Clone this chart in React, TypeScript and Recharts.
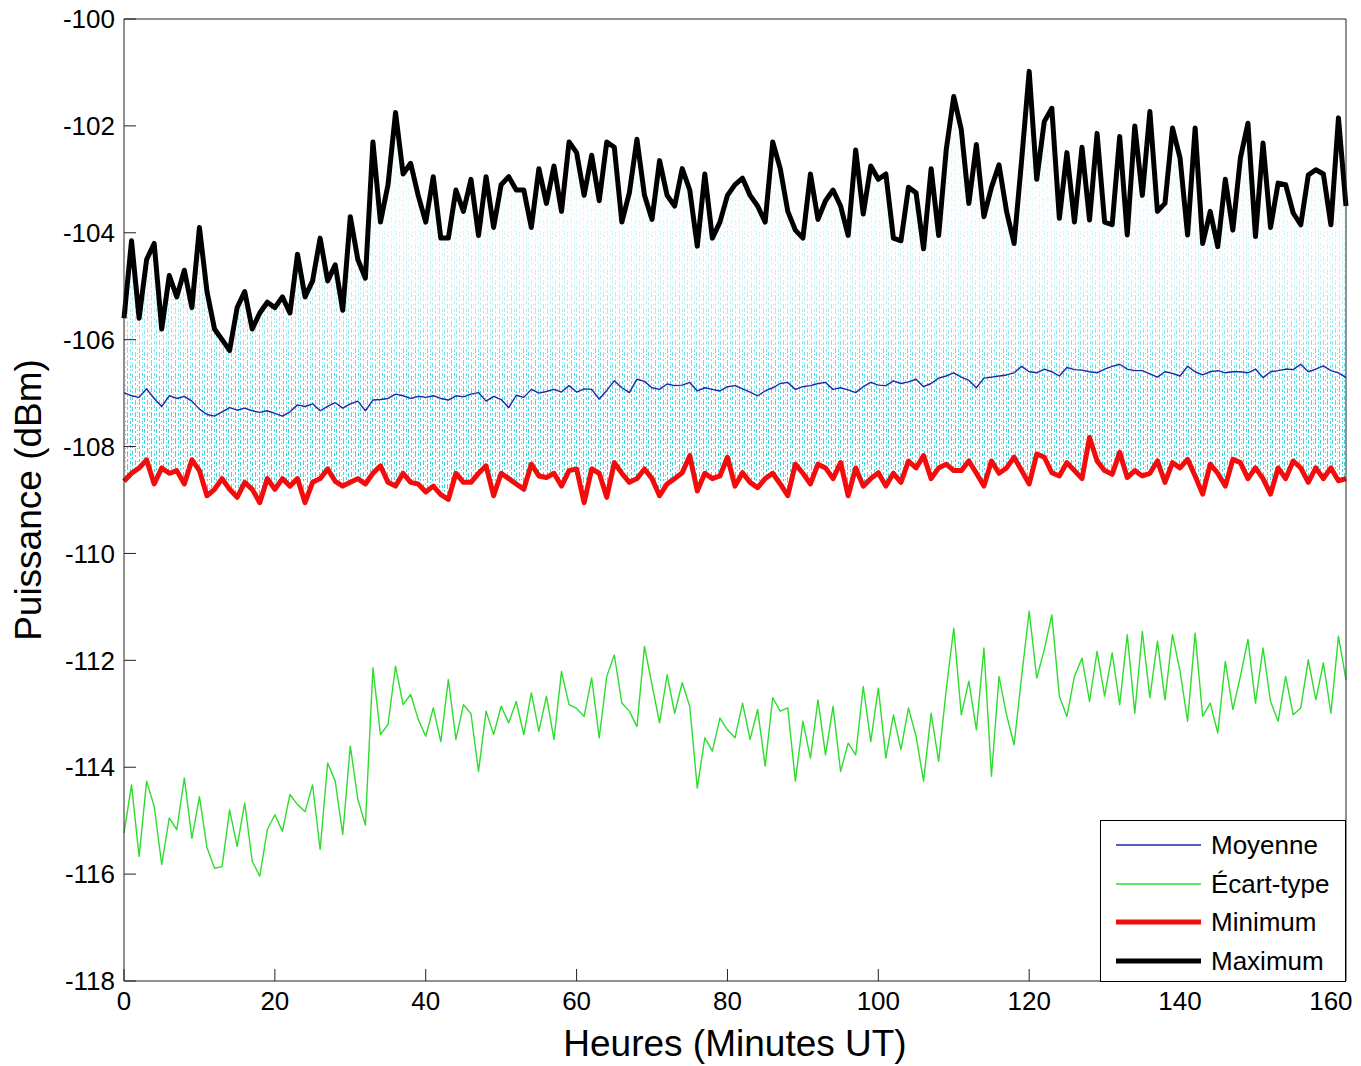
import { Area, ComposedChart, Legend, Line, XAxis, YAxis } from "recharts";

const FONT = "Arial, 'Liberation Sans', Helvetica, sans-serif";

// one sample per minute, 0 .. 162
const MAXIMUM = [
  -105.6, -104.15, -105.6, -104.5, -104.2, -105.8, -104.8, -105.2, -104.7, -105.4,
  -103.9, -105.1, -105.8, -106.0, -106.2, -105.4, -105.1, -105.8, -105.5, -105.3,
  -105.4, -105.2, -105.5, -104.4, -105.2, -104.9, -104.1, -104.9, -104.6, -105.45,
  -103.7, -104.5, -104.85, -102.3, -103.8, -103.1, -101.75, -102.9, -102.7, -103.3,
  -103.8, -102.95, -104.1, -104.1, -103.2, -103.6, -103.0, -104.05, -102.95, -103.9,
  -103.1, -102.95, -103.2, -103.2, -103.9, -102.8, -103.45, -102.75, -103.6, -102.3,
  -102.5, -103.3, -102.55, -103.4, -102.3, -102.4, -103.8, -103.25, -102.25, -103.3,
  -103.75, -102.65, -103.3, -103.5, -102.8, -103.2, -104.25, -102.9, -104.1, -103.8,
  -103.3, -103.1, -102.98, -103.3, -103.5, -103.8, -102.3, -102.8, -103.6, -103.95,
  -104.1, -102.9, -103.75, -103.4, -103.2, -103.5, -104.05, -102.45, -103.65, -102.75,
  -103.0, -102.9, -104.1, -104.15, -103.15, -103.25, -104.3, -102.8, -104.05, -102.45,
  -101.45, -102.07, -103.45, -102.35, -103.7, -103.15, -102.73, -103.6, -104.2, -102.64,
  -100.98, -103.0, -101.92, -101.67, -103.73, -102.5, -103.8, -102.4, -103.76, -102.14,
  -103.8, -103.85, -102.2, -104.04, -102.0, -103.3, -101.73, -103.6, -103.45, -102.04,
  -102.6, -104.04, -102.04, -104.2, -103.6, -104.26, -103.0, -103.95, -102.6, -101.95,
  -104.07, -102.32, -103.9, -103.07, -103.1, -103.63, -103.85, -102.92, -102.82, -102.9,
  -103.85, -101.85, -103.5,
];

const MINIMUM = [
  -108.65, -108.5, -108.4, -108.25, -108.7, -108.4, -108.5, -108.45, -108.7, -108.25,
  -108.45, -108.92, -108.8, -108.6, -108.8, -108.95, -108.67, -108.8, -109.05, -108.6,
  -108.8, -108.6, -108.74, -108.6, -109.05, -108.67, -108.6, -108.42, -108.65, -108.74,
  -108.67, -108.6, -108.7, -108.5, -108.36, -108.67, -108.74, -108.5, -108.67, -108.7,
  -108.85, -108.74, -108.9, -108.99, -108.5, -108.67, -108.67, -108.5, -108.36, -108.92,
  -108.5, -108.6, -108.7, -108.8, -108.33, -108.55, -108.58, -108.5, -108.74, -108.45,
  -108.42, -109.05, -108.42, -108.5, -108.95, -108.3, -108.5, -108.67, -108.6, -108.42,
  -108.6, -108.92, -108.7, -108.6, -108.49, -108.17, -108.83, -108.5, -108.6, -108.55,
  -108.2, -108.74, -108.49, -108.67, -108.77, -108.6, -108.5, -108.7, -108.92, -108.33,
  -108.5, -108.7, -108.33, -108.4, -108.6, -108.3, -108.92, -108.4, -108.74, -108.6,
  -108.49, -108.74, -108.5, -108.67, -108.27, -108.4, -108.17, -108.6, -108.4, -108.33,
  -108.45, -108.45, -108.27, -108.5, -108.74, -108.27, -108.5, -108.4, -108.2, -108.45,
  -108.7, -108.14, -108.2, -108.49, -108.55, -108.3, -108.45, -108.6, -107.83, -108.27,
  -108.45, -108.52, -108.11, -108.58, -108.45, -108.55, -108.5, -108.27, -108.67, -108.3,
  -108.4, -108.24, -108.55, -108.89, -108.33, -108.5, -108.74, -108.24, -108.3, -108.6,
  -108.4, -108.6, -108.89, -108.4, -108.6, -108.27, -108.4, -108.67, -108.4, -108.6,
  -108.4, -108.64, -108.6,
];

const MOYENNE = [
  -106.99, -107.05, -107.08, -106.92, -107.1, -107.25, -107.05, -107.1, -107.06, -107.15,
  -107.3, -107.4, -107.43, -107.35, -107.27, -107.32, -107.28, -107.33, -107.36, -107.33,
  -107.38, -107.43, -107.35, -107.22, -107.25, -107.2, -107.33, -107.25, -107.18, -107.28,
  -107.2, -107.15, -107.33, -107.13, -107.12, -107.1, -107.02, -107.05, -107.1, -107.06,
  -107.08, -107.05, -107.1, -107.13, -107.05, -107.07, -107.02, -106.99, -107.15, -107.06,
  -107.12, -107.27, -107.04, -107.08, -106.93, -107.0, -106.97, -106.93, -106.98, -106.86,
  -106.98, -106.92, -106.93, -107.11, -106.95, -106.77, -106.9, -106.99, -106.74, -106.78,
  -106.9, -106.93, -106.83, -106.86, -106.85, -106.8, -106.96, -106.9, -106.93, -106.96,
  -106.88, -106.86, -106.92, -106.98, -107.05, -106.96, -106.9, -106.82, -106.8, -106.93,
  -106.88, -106.86, -106.82, -106.8, -106.93, -106.9, -106.94, -106.99, -106.88, -106.8,
  -106.85, -106.86, -106.77, -106.82, -106.79, -106.74, -106.88, -106.82, -106.72, -106.68,
  -106.62, -106.7, -106.76, -106.9, -106.72, -106.7, -106.68, -106.66, -106.62, -106.5,
  -106.6, -106.62, -106.55, -106.6, -106.68, -106.52, -106.56, -106.57, -106.6, -106.62,
  -106.55, -106.5, -106.46, -106.55, -106.58, -106.58, -106.64, -106.7, -106.6, -106.63,
  -106.68, -106.5, -106.6, -106.66, -106.6, -106.58, -106.62, -106.6, -106.6, -106.62,
  -106.55, -106.71, -106.6, -106.58, -106.55, -106.56, -106.46, -106.6, -106.55, -106.49,
  -106.58, -106.62, -106.71,
];

const ECART_TYPE = [
  -115.23, -114.33, -115.67, -114.26, -114.73, -115.82, -114.95, -115.17, -114.2, -115.33,
  -114.55, -115.5, -115.89, -115.86, -114.8, -115.48, -114.67, -115.76, -116.04, -115.17,
  -114.89, -115.2, -114.51, -114.7, -114.83, -114.33, -115.54, -113.92, -114.26, -115.26,
  -113.6, -114.6, -115.08, -112.14, -113.39, -113.2, -112.11, -112.83, -112.64, -113.1,
  -113.42, -112.89, -113.52, -112.36, -113.48, -112.83, -113.0, -114.08, -112.95, -113.39,
  -112.86, -113.17, -112.77, -113.39, -112.61, -113.33, -112.67, -113.48, -112.21, -112.83,
  -112.9, -113.05, -112.33, -113.45, -112.3, -111.9, -112.8, -112.95, -113.24, -111.74,
  -112.46, -113.17, -112.27, -112.99, -112.42, -112.86, -114.39, -113.45, -113.7, -113.08,
  -113.3, -113.45, -112.8, -113.48, -112.92, -113.98, -112.7, -112.95, -112.89, -114.26,
  -113.14, -113.83, -112.74, -113.77, -112.86, -114.08, -113.55, -113.77, -112.49, -113.52,
  -112.52, -113.83, -113.02, -113.67, -112.89, -113.42, -114.26, -112.99, -113.89, -112.55,
  -111.4, -113.02, -112.39, -113.3, -111.77, -114.17, -112.3, -113.02, -113.58, -112.3,
  -111.08, -112.33, -111.8, -111.15, -112.67, -113.05, -112.3, -111.96, -112.77, -111.83,
  -112.67, -111.86, -112.83, -111.52, -112.99, -111.46, -112.7, -111.64, -112.74, -111.52,
  -112.2, -113.14, -111.49, -113.05, -112.8, -113.36, -112.02, -112.92, -112.3, -111.61,
  -112.8, -111.77, -112.77, -113.14, -112.3, -113.02, -112.89, -111.99, -112.74, -112.05,
  -112.99, -111.55, -112.36,
];

const X_TICKS = [0, 20, 40, 60, 80, 100, 120, 140, 160];
const Y_TICKS = [-118, -116, -114, -112, -110, -108, -106, -104, -102, -100];

const SERIES = [
  { key: "moyenne", name: "Moyenne", color: "#1b2aa8", width: 1.4, legend: 1.5 },
  { key: "ecart", name: "Écart-type", color: "#2edc2e", width: 1.4, legend: 1.5 },
  { key: "min", name: "Minimum", color: "#f40c0c", width: 5, legend: 5 },
  { key: "max", name: "Maximum", color: "#000000", width: 5, legend: 5 },
];

const data = MOYENNE.map((m, i) => ({
  minute: i,
  moyenne: m,
  ecart: ECART_TYPE[i],
  min: MINIMUM[i],
  max: MAXIMUM[i],
  band: [MINIMUM[i], MAXIMUM[i]],
}));

const W = 1361;
const H = 1066;
const CYAN = "#2cd0dc";
const tickStyle = { fontSize: 26, fill: "#000", fontFamily: FONT };
const titleStyle = { fontSize: 37, fill: "#000", fontFamily: FONT };
const ROW_TOPS = [5, 44, 82, 121];

function LegendBox() {
  return (
    <div
      style={{
        width: 244,
        height: 160,
        border: "1px solid #000",
        background: "#fff",
        position: "relative",
        fontFamily: FONT,
      }}
    >
      {SERIES.map((s, i) => (
        <div
          key={s.key}
          style={{
            position: "absolute",
            left: 0,
            top: ROW_TOPS[i],
            height: 38,
            display: "flex",
            alignItems: "center",
          }}
        >
          <svg width={100} height={38} style={{ display: "block" }}>
            <line x1={15} x2={100} y1={19} y2={19} stroke={s.color} strokeWidth={s.legend} />
          </svg>
          <span style={{ marginLeft: 10, fontSize: 26, color: "#000", lineHeight: "38px" }}>
            {s.name}
          </span>
        </div>
      ))}
    </div>
  );
}

export default function App() {
  const byKey = Object.fromEntries(SERIES.map((s) => [s.key, s]));
  const drawOrder = ["ecart", "min", "moyenne", "max"];

  return (
    <div style={{ position: "absolute", left: 0, top: 0, background: "#fff" }}>
      <ComposedChart
        width={W}
        height={H}
        data={data}
        margin={{ top: 18, right: 14, bottom: 0, left: 0 }}
      >
        <defs>
          {/* raw samples: cyan dotted columns, denser towards the bottom */}
          <linearGradient id="cyanFade" gradientUnits="userSpaceOnUse" x1="0" y1="0" x2="0" y2={H}>
            <stop offset="0.2" stopColor={CYAN} stopOpacity={0.14} />
            <stop offset="0.26" stopColor={CYAN} stopOpacity={0.28} />
            <stop offset="0.31" stopColor={CYAN} stopOpacity={0.5} />
            <stop offset="0.36" stopColor={CYAN} stopOpacity={0.8} />
            <stop offset="0.41" stopColor={CYAN} stopOpacity={0.9} />
          </linearGradient>
          <pattern id="cyanDots" patternUnits="userSpaceOnUse" x="0" y="0" width="12" height={H}>
            <line x1="0.5" y1="0" x2="0.5" y2={H} stroke="url(#cyanFade)" strokeWidth={1} strokeDasharray="4 2 2 3" />
            <line x1="3.5" y1="0" x2="3.5" y2={H} stroke="url(#cyanFade)" strokeWidth={1} strokeDasharray="2 3 5 2" strokeDashoffset={1} />
            <line x1="5.5" y1="0" x2="5.5" y2={H} stroke="url(#cyanFade)" strokeWidth={1} strokeDasharray="1 3 1 4" strokeDashoffset={2} />
            <line x1="7.5" y1="0" x2="7.5" y2={H} stroke="url(#cyanFade)" strokeWidth={1} strokeDasharray="6 2 3 2" strokeDashoffset={4} />
            <line x1="10.5" y1="0" x2="10.5" y2={H} stroke="url(#cyanFade)" strokeWidth={1} strokeDasharray="3 2 1 2" strokeDashoffset={3} />
          </pattern>
        </defs>

        <XAxis
          dataKey="minute"
          type="number"
          domain={[0, 162]}
          ticks={X_TICKS}
          interval={0}
          height={85}
          tickSize={-12}
          tickMargin={23}
          tick={tickStyle}
          stroke="#222"
          label={{ value: "Heures (Minutes UT)", position: "insideBottom", offset: 10, style: titleStyle }}
        />
        <XAxis
          xAxisId="top"
          orientation="top"
          type="number"
          domain={[0, 162]}
          ticks={X_TICKS}
          interval={0}
          height={1}
          tickSize={-12}
          tick={false}
          stroke="#222"
        />
        <YAxis
          type="number"
          domain={[-118, -100]}
          ticks={Y_TICKS}
          interval={0}
          width={124}
          tickSize={-12}
          tickMargin={21}
          tick={tickStyle}
          stroke="#222"
          label={{
            value: "Puissance (dBm)",
            angle: -90,
            position: "insideLeft",
            offset: 28,
            style: { ...titleStyle, textAnchor: "middle" },
          }}
        />
        <YAxis
          yAxisId="right"
          orientation="right"
          type="number"
          domain={[-118, -100]}
          ticks={Y_TICKS}
          interval={0}
          width={1}
          tickSize={-12}
          tick={false}
          stroke="#222"
        />

        <Area
          dataKey="band"
          type="linear"
          stroke="none"
          fill="url(#cyanDots)"
          fillOpacity={1}
          isAnimationActive={false}
          legendType="none"
        />

        {drawOrder.map((k) => {
          const s = byKey[k];
          return (
            <Line
              key={k}
              dataKey={k}
              name={s.name}
              type="linear"
              stroke={s.color}
              strokeWidth={s.width}
              strokeLinejoin="round"
              dot={false}
              activeDot={false}
              isAnimationActive={false}
            />
          );
        })}

        <Legend
          content={<LegendBox />}
          layout="vertical"
          align="center"
          verticalAlign="middle"
          wrapperStyle={{ left: 1100, top: 820, width: 246, height: 162 }}
        />
      </ComposedChart>
    </div>
  );
}
